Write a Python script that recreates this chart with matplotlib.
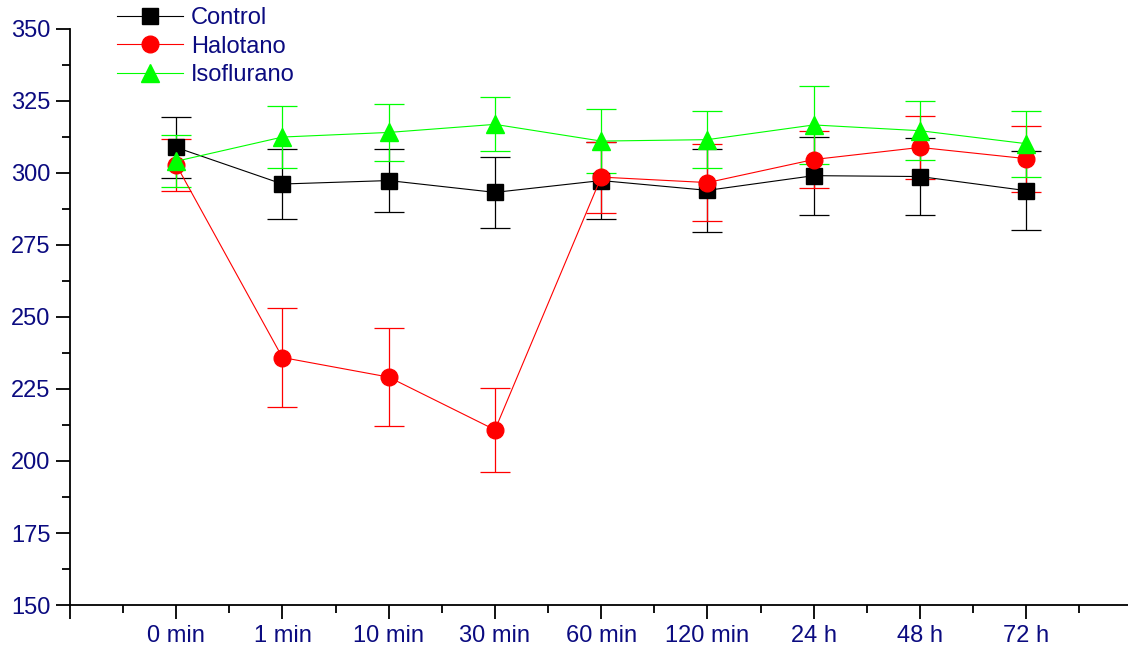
import numpy as np
import matplotlib
matplotlib.use("Agg")
import matplotlib.pyplot as plt
from matplotlib.lines import Line2D
from matplotlib.ticker import MultipleLocator, FixedLocator

plt.rcParams['font.family'] = ['Liberation Sans', 'DejaVu Sans']

# Data (mean +/- error)
times = ['0 min', '1 min', '10 min', '30 min', '60 min', '120 min', '24 h', '48 h', '72 h']

control = [308.8, 296.1, 297.3, 293.2, 297.3, 293.9, 299.0, 298.7, 293.8]
control_err = [10.5, 12.3, 11.0, 12.2, 13.3, 14.5, 13.5, 13.5, 13.8]

halotano = [302.8, 235.9, 229.1, 210.8, 298.5, 296.6, 304.6, 308.8, 304.9]
halotano_err = [9.0, 17.2, 17.0, 14.5, 12.3, 13.5, 10.0, 11.0, 11.5]

isoflurano = [304.0, 312.4, 314.0, 316.8, 311.0, 311.5, 316.6, 314.6, 310.1]
isoflurano_err = [9.0, 10.8, 9.8, 9.4, 11.2, 10.0, 13.4, 10.2, 11.4]

navy = '#0b0b80'

fig = plt.figure(figsize=(11.28, 6.52), dpi=100)
ax = fig.add_axes([0.062, 0.072, 0.942, 0.884])

x = np.arange(len(times))
series = [
    ('Control', control, control_err, 'black', 's', 11),
    ('Halotano', halotano, halotano_err, '#ff0000', 'o', 12),
    ('Isoflurano', isoflurano, isoflurano_err, '#00ff00', '^', 13),
]
handles = []
for name, vals, err, col, mk, ms in series:
    ax.errorbar(x, vals, yerr=err, color=col, ecolor=col, lw=0.8, elinewidth=0.9,
                capsize=10.8, capthick=0.9, marker=mk, ms=ms, mec=col, mfc=col)
    handles.append(Line2D([], [], color=col, lw=0.8, marker=mk, ms=ms, mec=col,
                          mfc=col, label=name))

ax.set_xlim(-1, 9)
ax.set_ylim(150, 350)

for s in ['top', 'right']:
    ax.spines[s].set_visible(False)
for s in ['left', 'bottom']:
    ax.spines[s].set_linewidth(1.3)

ax.yaxis.set_major_locator(MultipleLocator(25))
ax.yaxis.set_minor_locator(MultipleLocator(12.5))
ax.xaxis.set_major_locator(FixedLocator(np.arange(-1, 10)))
ax.xaxis.set_minor_locator(FixedLocator(np.arange(-0.5, 9, 1)))
ax.set_xticklabels([''] + times + [''])

ax.tick_params(axis='both', which='major', direction='out', length=10, width=1.3,
               labelsize=17, labelcolor=navy)
ax.tick_params(axis='both', which='minor', direction='out', length=5.5, width=1.3)
ax.tick_params(axis='x', which='major', pad=4)
ax.tick_params(axis='y', which='major', pad=4)

leg = ax.legend(handles=handles, loc='upper left', bbox_to_anchor=(0.044, 1.038),
                frameon=False, fontsize=17, handlelength=2.8, handletextpad=0.35,
                labelspacing=0.29, borderaxespad=0, borderpad=0)
for t in leg.get_texts():
    t.set_color(navy)

fig.savefig('out.png', dpi=100)
